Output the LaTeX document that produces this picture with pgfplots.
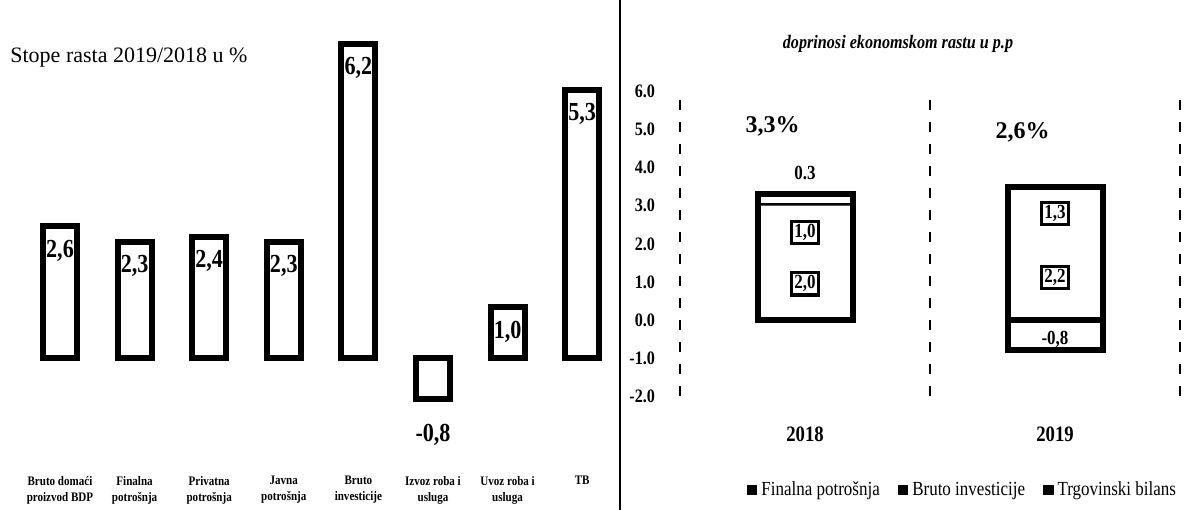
\documentclass[border=0pt]{standalone}
\usepackage{fontspec}
\setmainfont{Liberation Serif}
\newfontfamily\cond[FakeStretch=0.85]{Liberation Serif}
\usepackage{pgfplots}
\pgfplotsset{compat=1.18}

\begin{document}
\begin{tikzpicture}
\path[use as bounding box] (0,0) rectangle (593.5pt,-255pt);
\draw[line width=1.2pt] (310pt,0pt) -- (310pt,-255pt);
\node[anchor=base west, font=\fontsize{11}{13}\selectfont, inner sep=0pt] at (5pt,-31pt) {Stope rasta 2019/2018 u \%};
\node[font=\cond\bfseries\itshape\fontsize{9.5}{11}\selectfont] at (449pt,-22pt) {doprinosi ekonomskom rastu u p.p};

% ---------- left chart ----------
\begin{axis}[
  at={(11.35pt,-219.5pt)}, anchor=south west, scale only axis,
  width=298.4pt, height=202.4pt,
  xmin=-0.5, xmax=7.5, ymin=-1.6, ymax=6.4, clip=false,
  axis line style={draw=none}, ytick=\empty, major tick length=0pt,
  xtick={0,...,7},
  xticklabels={Bruto domaći\\proizvod BDP, Finalna\\potrošnja, Privatna\\potrošnja, Javna\\potrošnja, Bruto\\investicije, Izvoz roba i\\usluga, Uvoz roba i\\usluga, TB},
  xticklabel style={font=\cond\bfseries\fontsize{6.5}{8}\selectfont, align=center, anchor=north, yshift=-15pt},
]
\addplot[ybar, bar shift=0pt, bar width=17pt, fill=white, draw=black, line width=3pt,
  nodes near coords={\pgfmathprintnumber[fixed,fixed zerofill,precision=1,use comma,assume math mode=true]{\pgfplotspointmeta}},
  every node near coord/.append style={anchor=center, yshift=-12pt, font=\cond\bfseries\fontsize{13}{13}\selectfont}]
  coordinates {(0,2.6) (1,2.3) (2,2.4) (3,2.3) (4,6.2) (6,1.0) (7,5.3)};
\addplot[ybar, bar shift=0pt, bar width=17pt, fill=white, draw=black, line width=3pt,
  nodes near coords={\pgfmathprintnumber[fixed,fixed zerofill,precision=1,use comma,assume math mode=true]{\pgfplotspointmeta}},
  every node near coord/.append style={anchor=center, yshift=-18pt, font=\cond\bfseries\fontsize{13}{13}\selectfont}]
  coordinates {(5,-0.8)};
\end{axis}

% ---------- right chart: stacked segments ----------
\begin{axis}[
  at={(340pt,-198.1pt)}, anchor=south west, scale only axis,
  width=250pt, height=152.4pt,
  xmin=-0.5, xmax=1.5, ymin=-2, ymax=6, clip=false,
  ybar stacked, bar width=47.5pt,
  axis line style={draw=none}, major tick length=0pt,
  xtick={0,1}, xticklabels={2018,2019},
  ytick={-2,-1,0,1,2,3,4,5,6},
  /pgf/number format/fixed, /pgf/number format/fixed zerofill,
  /pgf/number format/precision=1, /pgf/number format/assume math mode=true,
  yticklabel style={font=\cond\bfseries\fontsize{9.5}{10}\selectfont, xshift=-9pt},
  xticklabel style={font=\cond\bfseries\fontsize{11}{12}\selectfont, yshift=-12pt},
  extra x ticks={-0.5,0.5,1.5}, extra x tick labels={},
  extra x tick style={grid=major},
  major grid style={black, line width=0.6pt, dash pattern=on 5pt off 6pt},
  legend image code/.code={\path[fill=black, draw=none] (0pt,-2.6pt) rectangle (5.2pt,2.6pt);},
  legend style={at={(0.567,-0.308)}, anchor=center, draw=none, fill=none,
    legend columns=3, font=\cond\fontsize{10}{12}\selectfont,
    /tikz/every even column/.append style={column sep=7pt}},
]
\addplot[fill=white, draw=none] coordinates {(0,2.0) (1,2.2)};
\addlegendentry{Finalna potrošnja}
\addplot[fill=white, draw=none] coordinates {(0,1.0) (1,1.3)};
\addlegendentry{Bruto investicije}
\addplot[fill=white, draw=black, line width=2.5pt] coordinates {(0,0.3) (1,0)};
\addlegendentry{Trgovinski bilans}
\end{axis}

% ---------- right chart: outlines, negative part, labels ----------
\begin{axis}[
  at={(340pt,-198.1pt)}, anchor=south west, scale only axis,
  width=250pt, height=152.4pt,
  xmin=-0.5, xmax=1.5, ymin=-2, ymax=6, clip=false, hide axis,
]
\addplot[ybar, bar shift=0pt, bar width=47.5pt, fill=none, draw=black, line width=3pt]
  coordinates {(0,3.3) (1,3.5)};
\addplot[ybar, bar shift=0pt, bar width=47.5pt, fill=white, draw=black, line width=3pt]
  coordinates {(1,-0.8)};
\addplot[only marks, mark=*, mark size=0.3pt, mark options={draw=white, fill=white},
  point meta=explicit symbolic, nodes near coords,
  every node near coord/.append style={anchor=center, draw=black, text=black, line width=1.6pt, fill=white, inner sep=1.5pt, font=\cond\bfseries\fontsize{10}{10}\selectfont}]
  coordinates {(0,2.3) [1,0] (0,0.95) [2,0] (1,2.8) [1,3] (1,1.12) [2,2]};
\addplot[only marks, mark=*, mark size=0.3pt, mark options={draw=white, fill=white},
  point meta=explicit symbolic, nodes near coords,
  every node near coord/.append style={anchor=center, text=black, font=\cond\bfseries\fontsize{10}{10}\selectfont}]
  coordinates {(0,3.85) [0.3] (1,-0.52) [-0,8]};
\addplot[only marks, mark=*, mark size=0.3pt, mark options={draw=white, fill=white},
  point meta=explicit symbolic, nodes near coords,
  every node near coord/.append style={anchor=center, text=black, font=\bfseries\fontsize{12}{12}\selectfont}]
  coordinates {(-0.13,5.07) [3,3\%] (0.87,4.93) [2,6\%]};
\end{axis}
\end{tikzpicture}
\end{document}
